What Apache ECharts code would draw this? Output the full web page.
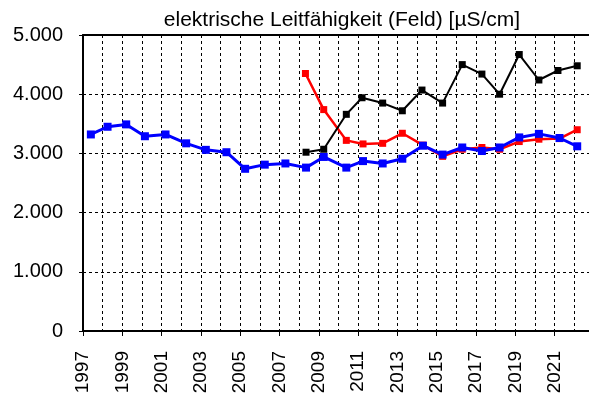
<!DOCTYPE html>
<html>
<head>
<meta charset="utf-8">
<script src="https://cdn.jsdelivr.net/npm/echarts@6/dist/echarts.min.js"></script>
<style>
    html, body { margin: 0; padding: 0; background: #fff; }
    #chart { width: 589px; height: 401px; }
</style>
</head>
<body>
<div id="chart"></div>
<script type="text/javascript">
    // Messzeitpunkte (Jahr + Bruchteil) und Werte in µS/cm
    var blueYears = [1997.4, 1998.25, 1999.2, 2000.15, 2001.2, 2002.25, 2003.25, 2004.3, 2005.25, 2006.25, 2007.3, 2008.35, 2009.25,
                     2010.4, 2011.25, 2012.25, 2013.25, 2014.3, 2015.3, 2016.3, 2017.3, 2018.2, 2019.2, 2020.2, 2021.25, 2022.15];
    var blueValues = [3320, 3450, 3490, 3290, 3320, 3170, 3060, 3020, 2740, 2810, 2830, 2760, 2940,
                      2760, 2870, 2830, 2910, 3130, 2980, 3100, 3040, 3100, 3270, 3330, 3260, 3120];
    var redYears = [2008.32, 2009.25, 2010.4, 2011.25, 2012.25, 2013.25, 2014.3, 2015.3, 2016.3, 2017.3, 2018.2, 2019.2, 2020.2, 2021.25, 2022.15];
    var redValues = [4350, 3740, 3220, 3160, 3170, 3340, 3140, 2950, 3070, 3100, 3070, 3200, 3240, 3250, 3400];
    var blackYears = [2008.35, 2009.25, 2010.4, 2011.2, 2012.25, 2013.25, 2014.25, 2015.3, 2016.3, 2017.3, 2018.2, 2019.2, 2020.2, 2021.17, 2022.15];
    var blackValues = [3020, 3070, 3660, 3940, 3850, 3720, 4070, 3850, 4500, 4340, 4000, 4670, 4240, 4400, 4480];

    var yearMin = 1997;
    var yearMax = 2022.75;

    function pairs(xs, ys) {
        return xs.map(function(x, i) { return [x, ys[i]]; });
    }

    var font = 'Liberation Sans, Arial, sans-serif';
    var dashed = { color: '#000', width: 1, type: [3, 3] };

    var myChart = echarts.init(document.getElementById('chart'));
    var option = {
        animation: false,
        title: {
            text: 'elektrische Leitfähigkeit (Feld) [µS/cm]',
            left: 337,
            textAlign: 'center',
            top: 5,
            textStyle: { fontFamily: font, fontSize: 21, fontWeight: 'normal', color: '#000' }
        },
        grid: { left: 83, right: 0, top: 35, bottom: 70 },
        xAxis: [
            {
                type: 'value',
                min: yearMin,
                max: yearMax,
                interval: 2,
                axisLine: { show: true, onZero: false, lineStyle: { color: '#000', width: 2 } },
                axisTick: { show: true, length: 5, lineStyle: { color: '#000' } },
                splitLine: { show: false },
                axisLabel: {
                    rotate: 90,
                    margin: 20,
                    fontFamily: font,
                    fontSize: 19,
                    color: '#000',
                    formatter: function(v) {
                        return (v % 2 === 1 && Math.round(v) === v) ? String(v) : '';
                    }
                }
            },
            {
                type: 'value',
                position: 'top',
                min: yearMin,
                max: yearMax,
                interval: 1,
                axisLine: { show: true, onZero: false, lineStyle: { color: '#000', width: 2 } },
                axisTick: { show: false },
                axisLabel: { show: false },
                splitLine: { show: true, showMinLine: false, showMaxLine: false, lineStyle: dashed }
            }
        ],
        yAxis: {
            type: 'value',
            min: 0,
            max: 5000,
            interval: 1000,
            axisLine: { show: true, lineStyle: { color: '#000', width: 2 } },
            axisTick: { show: true, length: 4, lineStyle: { color: '#000' } },
            splitLine: { show: true, showMinLine: false, showMaxLine: false, lineStyle: dashed },
            axisLabel: {
                margin: 20,
                fontFamily: font,
                fontSize: 20,
                color: '#000',
                formatter: function(v) {
                    return v === 0 ? '0' : (v / 1000) + '.000';
                }
            }
        },
        series: [
            {
                type: 'line',
                data: pairs(redYears, redValues),
                symbol: 'rect',
                symbolSize: 7,
                itemStyle: { color: '#ff0000' },
                lineStyle: { color: '#ff0000', width: 2.5 }
            },
            {
                type: 'line',
                data: pairs(blueYears, blueValues),
                symbol: 'rect',
                symbolSize: 8,
                itemStyle: { color: '#0000ff' },
                lineStyle: { color: '#0000ff', width: 3 }
            },
            {
                type: 'line',
                data: pairs(blackYears, blackValues),
                symbol: 'rect',
                symbolSize: 7,
                itemStyle: { color: '#000' },
                lineStyle: { color: '#000', width: 2 }
            }
        ]
    };
    myChart.setOption(option);
</script>
</body>
</html>
